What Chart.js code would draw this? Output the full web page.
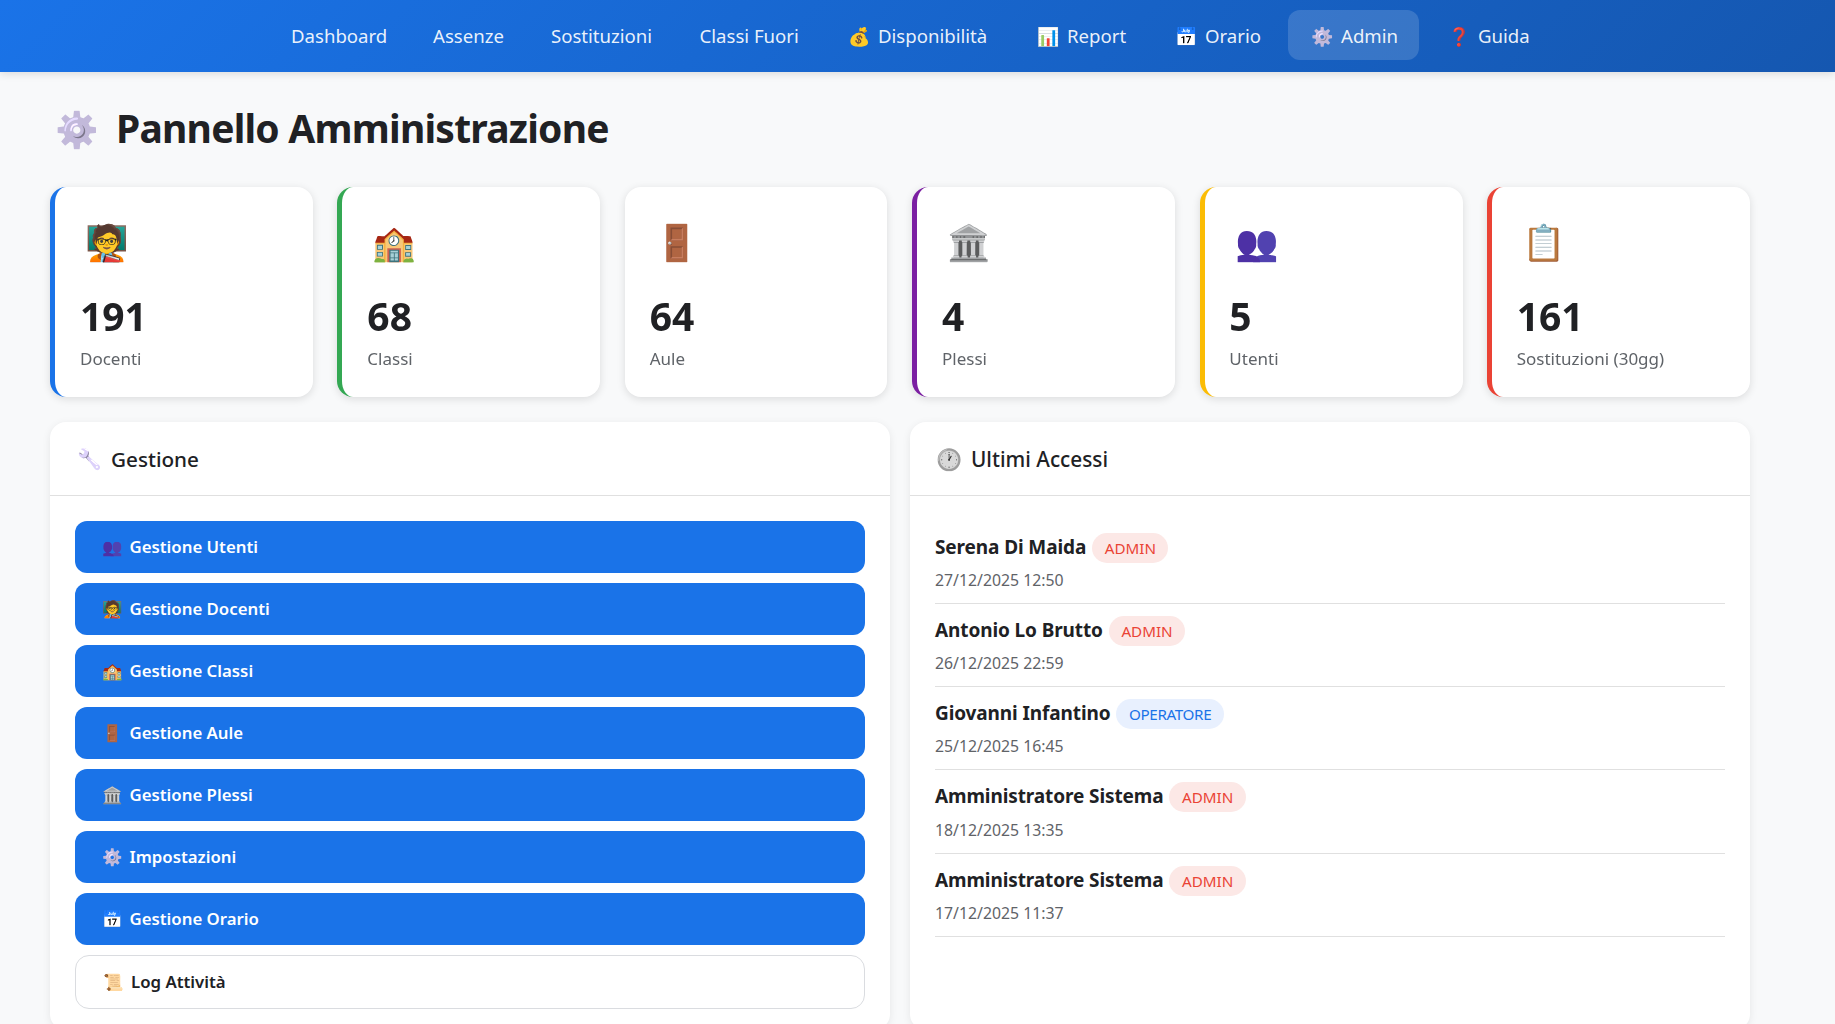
<!DOCTYPE html>
<html lang="it"><head><meta charset="utf-8"><title>Pannello Amministrazione</title>
<script src="https://cdn.jsdelivr.net/npm/chart.js@4"></script>
<style>
*{box-sizing:border-box}
html,body{margin:0;width:1835px;height:1024px;overflow:hidden;background:#f8f9fa;font-family:"Noto Sans",sans-serif;color:#202124}
.t{position:absolute;white-space:nowrap;line-height:1}
#nav{position:absolute;left:0;top:0;width:1835px;height:72px;background:linear-gradient(135deg,#1a73e8,#1557b0);box-shadow:0 2px 8px rgba(0,0,0,.12)}
#pill{position:absolute;left:1288px;top:10px;width:131px;height:50px;border-radius:12px;background:rgba(255,255,255,.15)}
.card{position:absolute;top:187px;height:210px;width:262.5px;background:#fff;border-radius:16px;box-shadow:0 2px 8px rgba(0,0,0,.12)}
.panel{position:absolute;top:422px;height:608px;width:840px;background:#fff;border-radius:16px;box-shadow:0 2px 8px rgba(0,0,0,.08)}
.sep{position:absolute;height:1px;background:#e0e0e0}
.btn{position:absolute;left:75px;width:790px;height:52px;border-radius:12px;background:#1a73e8}
.btn.o{background:#fff;border:1.5px solid #dadce0;height:54px;border-radius:14px}
.row{position:absolute;left:935px;display:flex;align-items:center;white-space:nowrap}
.nm{font-weight:700;font-size:19px;line-height:30px;letter-spacing:-.11px;position:relative;top:-1px}
.bd{margin-left:6px;height:30px;line-height:30px;border-radius:15px;padding:0 12.5px;font-size:15.2px}
.bd.admin{background:#fce8e6;color:#ea4335}
.bd.operatore{background:#e8f0fe;color:#1a73e8;letter-spacing:-.35px}
.gear{filter:grayscale(1) sepia(.55) hue-rotate(215deg) brightness(1.02)}
.wrench{filter:grayscale(1) sepia(.6) hue-rotate(215deg) brightness(1.15)}
.people{filter:hue-rotate(45deg) brightness(.6) saturate(1.3)}
.clock{filter:saturate(0) brightness(.85)}
.cal{filter:hue-rotate(220deg) brightness(1.1)}
.bank{filter:saturate(.1) brightness(.95)}
#kpi{position:absolute;left:50px;top:187px;pointer-events:none}
</style></head><body>
<div id="root"></div>
<canvas id="kpi" width="1724" height="210"></canvas>
<script>
const navLabels=['Dashboard','Assenze','Sostituzioni','Classi Fuori','Disponibilità','Report','Orario','Admin','Guida'];
const navIcons=['','','','','💰','📊','📅','⚙️','❓'];
const statLabels=['Docenti','Classi','Aule','Plessi','Utenti','Sostituzioni (30gg)'];
const statValues=[191,68,64,4,5,161];
const statIcons=['🧑‍🏫','🏫','🚪','🏛️','👥','📋'];
const statColors=['#1a73e8','#34a853',null,'#7b1fa2','#fbbc04','#ea4335'];
const actions=['Gestione Utenti','Gestione Docenti','Gestione Classi','Gestione Aule','Gestione Plessi','Impostazioni','Gestione Orario','Log Attività'];
const actionIcons=['👥','🧑‍🏫','🏫','🚪','🏛️','⚙️','📅','📜'];
const accessNames=['Serena Di Maida','Antonio Lo Brutto','Giovanni Infantino','Amministratore Sistema','Amministratore Sistema'];
const accessRoles=['ADMIN','ADMIN','OPERATORE','ADMIN','ADMIN'];
const accessTimes=['27/12/2025 12:50','26/12/2025 22:59','25/12/2025 16:45','18/12/2025 13:35','17/12/2025 11:37'];

const iconClass={'⚙️':'gear','🔧':'wrench','👥':'people','🕐':'clock','📅':'cal','🏛️':'bank'};
const root=document.getElementById('root');
function el(html){root.insertAdjacentHTML('beforeend',html)}
// text placed by x and vertical centre
function T(x,cy,s,size,extra){el(`<div class="t" style="left:${x}px;top:${cy-size/2}px;font-size:${size}px;${extra||''}">${s}</div>`)}
function I(x,cy,s,size){el(`<div class="t ${iconClass[s]||''}" style="left:${x}px;top:${cy-size/2}px;font-size:${size}px">${s}</div>`)}

// navbar
el('<div id="nav"><div id="pill"></div></div>');
const navTextX=[291,433,551,699.5,878,1067,1205,1341,1478];
const navIconX=[0,0,0,0,848,1037,1175,1310.5,1448];
navLabels.forEach((n,i)=>{
  if(navIcons[i]) I(navIconX[i],36,navIcons[i],18);
  T(navTextX[i],36,n,18.6,'color:rgba(255,255,255,.92)');
});

// title
I(55,128,'⚙️',35);
T(116,127,'Pannello Amministrazione',39,'font-weight:700;letter-spacing:-.78px');

// stat cards
const cardLeft=[50,337,624.7,912,1200,1487.3];
const contentInset=[30,30,25,30,30,30];
statIcons.forEach((ic,i)=>{
  const bar=statColors[i]?`border-left:5px solid ${statColors[i]};`:'';
  el(`<div class="card" style="left:${cardLeft[i]}px;${bar}"></div>`);
});
statIcons.forEach((ic,i)=>I(cardLeft[i]+contentInset[i]+5,241.5,ic,35));

// panels
el('<div class="panel" style="left:50px"></div><div class="panel" style="left:910px"></div>');
el('<div class="sep" style="left:50px;top:495px;width:840px"></div><div class="sep" style="left:910px;top:495px;width:840px"></div>');
I(77,459,'🔧',20); T(111,459,'Gestione',20.7,'font-weight:500');
I(936,459,'🕐',21); T(971,459,'Ultimi Accessi',20.8,'font-weight:500');

// action buttons
const btnTop=[521,583,645,707,769,831,893,955];
actions.forEach((a,i)=>{
  const out=i===actions.length-1;
  el(`<div class="btn${out?' o':''}" style="top:${btnTop[i]}px"></div>`);
  const cy=btnTop[i]+(out?27:26);
  I(out?103:102,cy,actionIcons[i],16.5);
  T(out?131:129.5,cy,a,16.8,`font-weight:600;color:${out?'#202124':'#fff'}`);
});

// recent accesses
const rowCy=[548,631,714,797,881];
const dateCy=[581,664,747,831,914];
const sepY=[603,686,769,853,936];
accessNames.forEach((n,i)=>{
  el(`<div class="row" style="top:${rowCy[i]-15}px"><span class="nm">${n}</span><span class="bd ${accessRoles[i].toLowerCase()}">${accessRoles[i]}</span></div>`);
  T(935,dateCy[i],accessTimes[i],15.8,'color:#5f6368');
  el(`<div class="sep" style="left:935px;top:${sepY[i]}px;width:790px"></div>`);
});

// Chart.js: one category per stat card, the value and its label written at the category's scale position
const kpiText={id:'kpiText',afterDatasetsDraw(chart){
  const {ctx,scales:{x}}=chart, half=(x.getPixelForTick(1)-x.getPixelForTick(0))/2;
  ctx.save();ctx.textBaseline='alphabetic';ctx.textAlign='left';
  chart.data.datasets[0].data.forEach((v,i)=>{
    const px=x.getPixelForTick(i)-half+contentInset[i];
    ctx.fillStyle='#202124';ctx.font='700 39px "Noto Sans"';
    ctx.fillText(String(v),px,144);
    ctx.fillStyle='#5f6368';ctx.font='400 17px "Noto Sans"';
    ctx.fillText(x.getLabelForValue(i),px,178);
  });
  ctx.restore();
}};
new Chart(document.getElementById('kpi'),{
  type:'bar',
  data:{labels:statLabels,datasets:[{data:statValues,backgroundColor:'transparent',borderWidth:0}]},
  options:{responsive:false,animation:false,devicePixelRatio:1,layout:{padding:0},
    plugins:{legend:{display:false},tooltip:{enabled:false}},
    scales:{x:{display:false},y:{display:false,beginAtZero:true}}},
  plugins:[kpiText]
});
</script>
</body></html>
